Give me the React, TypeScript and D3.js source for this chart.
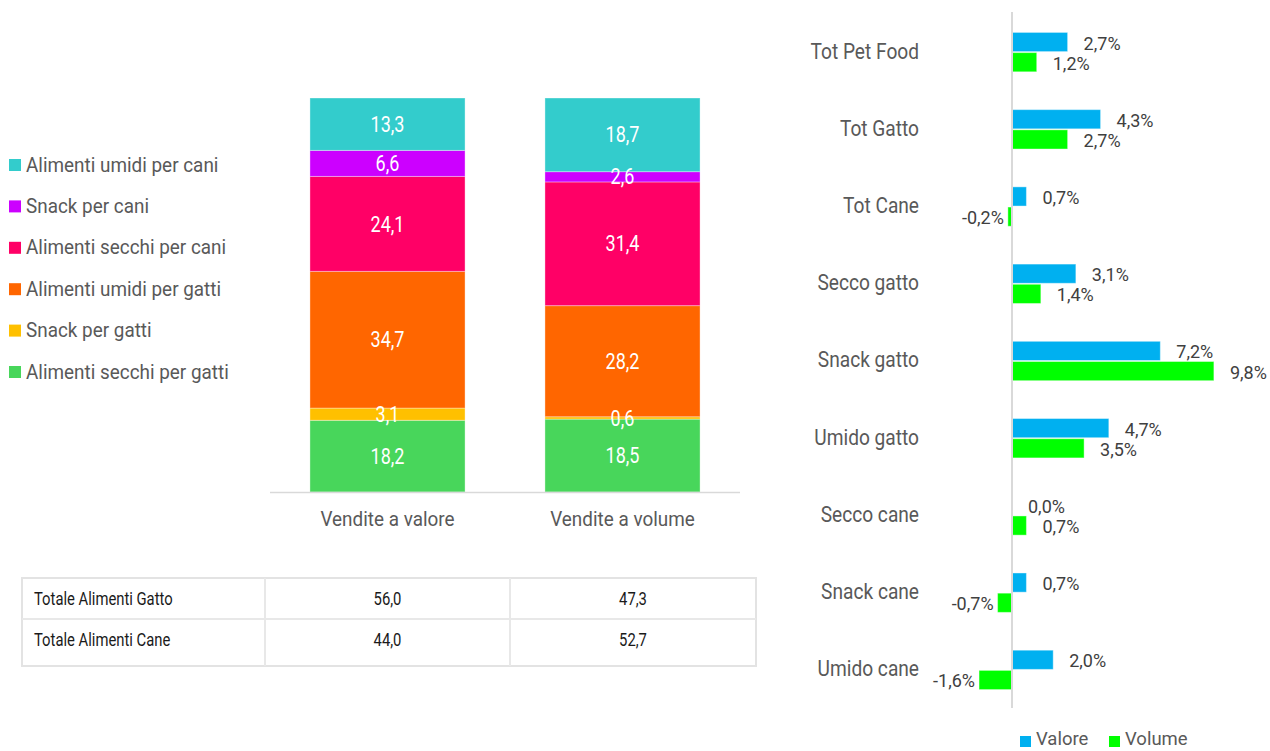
import React from "react";
import * as d3 from "d3";

// ---------- Data ----------
const stackSeries = [
  "Alimenti secchi per gatti",
  "Snack per gatti",
  "Alimenti umidi per gatti",
  "Alimenti secchi per cani",
  "Snack per cani",
  "Alimenti umidi per cani",
];
const stackColors = ["#48D65B", "#FFC000", "#FF6600", "#FF0066", "#CC00FF", "#33CCCC"];
const stackCategories = ["Vendite a valore", "Vendite a volume"];
const valoreShares = [18.2, 3.1, 34.7, 24.1, 6.6, 13.3];
const volumeShares = [18.5, 0.6, 28.2, 31.4, 2.6, 18.7];

const tableRows = ["Totale Alimenti Gatto", "Totale Alimenti Cane"];
const tableValore = [56.0, 44.0];
const tableVolume = [47.3, 52.7];

const growthCategories = [
  "Tot Pet Food",
  "Tot Gatto",
  "Tot Cane",
  "Secco gatto",
  "Snack gatto",
  "Umido gatto",
  "Secco cane",
  "Snack cane",
  "Umido cane",
];
const growthSeries = ["Valore", "Volume"];
const growthColors = ["#00B0F0", "#00FF00"];
const growthValore = [2.7, 4.3, 0.7, 3.1, 7.2, 4.7, 0.0, 0.7, 2.0];
const growthVolume = [1.2, 2.7, -0.2, 1.4, 9.8, 3.5, 0.7, -0.7, -1.6];

// ---------- helpers ----------
const FONT = "Roboto, 'Noto Sans', sans-serif";
const fmt1 = (v: number) => d3.format(".1f")(v).replace(".", ",").replace("−", "-");

function T(props: {
  x: number;
  y: number;
  sx?: number;
  size: number;
  anchor?: "start" | "middle" | "end";
  fill?: string;
  weight?: number;
  children: React.ReactNode;
}) {
  const { x, y, sx = 1, size, anchor = "start", fill = "#595959", weight = 400, children } = props;
  return (
    <text
      transform={`translate(${x},${y}) scale(${sx},1)`}
      fontSize={size}
      textAnchor={anchor}
      fill={fill}
      fontWeight={weight}
      fontFamily={FONT}
      dominantBaseline="central"
    >
      {children}
    </text>
  );
}

export default function App() {
  const W = 1270;
  const H = 751;

  // ----- stacked chart -----
  const table = stackCategories.map((c, i) => {
    const row: any = { cat: c };
    stackSeries.forEach((s, j) => {
      row[s] = (i === 0 ? valoreShares : volumeShares)[j];
    });
    return row;
  });
  const stacked = d3.stack<any>().keys(stackSeries)(table);
  const xS = d3.scaleBand<string>().domain(stackCategories).range([270, 740]).paddingInner(0.34).paddingOuter(0.17);
  const yS = d3.scaleLinear().domain([0, 100]).range([492, 98]);

  // ----- growth chart -----
  const yG = d3.scaleBand<string>().domain(growthCategories).range([13.5, 708.5]).paddingInner(0.49).paddingOuter(0.245);
  const ySub = d3.scaleBand<string>().domain(growthSeries).range([0, yG.bandwidth()]).paddingInner(0.05);
  const xG = d3.scaleLinear().domain([-2, 12]).range([1012 - 41.2, 1012 + 247.2]);
  const growthData = [growthValore, growthVolume];

  // ----- table -----
  const tableCols = [22, 265, 510, 756];
  const rowY = d3.scaleBand<string>().domain(tableRows).range([578, 660]);

  const legendY = d3.scalePoint<string>().domain([...stackSeries].reverse()).range([165, 372]);

  return (
    <svg width={W} height={H} style={{ display: "block", position: "absolute", left: 0, top: 0 }}>
      <rect width={W} height={H} fill="#fff" />

      {/* Left legend */}
      {[...stackSeries].reverse().map((s) => {
        const idx = stackSeries.indexOf(s);
        const cy = legendY(s)!;
        return (
          <g key={s}>
            <rect x={9} y={cy - 6} width={12} height={12} fill={stackColors[idx]} />
            <T x={26} y={cy} size={19.5} sx={0.97}>
              {s}
            </T>
          </g>
        );
      })}

      {/* Stacked bars */}
      {stacked.map((layer, j) => (
        <g key={layer.key}>
          {layer.map((d: any) => {
            const x = xS(d.data.cat)!;
            const y0 = yS(d[0]);
            const y1 = yS(d[1]);
            return (
              <rect
                key={d.data.cat}
                x={x}
                y={y1}
                width={xS.bandwidth()}
                height={y0 - y1}
                fill={stackColors[j]}
                stroke="#ffffff"
                strokeOpacity={0.35}
                strokeWidth={1}
              />
            );
          })}
        </g>
      ))}
      {stacked.map((layer) => (
        <g key={layer.key + "lbl"}>
          {layer.map((d: any) => {
            const x = xS(d.data.cat)! + xS.bandwidth() / 2;
            const y = (yS(d[0]) + yS(d[1])) / 2;
            return (
              <T key={d.data.cat} x={x} y={y} size={22} sx={0.82} anchor="middle" fill="#ffffff">
                {fmt1(d[1] - d[0])}
              </T>
            );
          })}
        </g>
      ))}
      <line x1={270} x2={740} y1={yS(0) + 0.5} y2={yS(0) + 0.5} stroke="#d9d9d9" strokeWidth={1.5} />
      {stackCategories.map((c) => (
        <T key={c} x={xS(c)! + xS.bandwidth() / 2} y={519} size={21} sx={0.9} anchor="middle">
          {c}
        </T>
      ))}

      {/* Table */}
      <g>
        <rect x={tableCols[0]} y={578} width={tableCols[3] - tableCols[0]} height={88} fill="#fff" stroke="#e3e3e3" strokeWidth={2} />
        <line x1={tableCols[0]} x2={tableCols[3]} y1={619} y2={619} stroke="#e8e8e8" strokeWidth={2} />
        <line x1={tableCols[1]} x2={tableCols[1]} y1={578} y2={666} stroke="#e8e8e8" strokeWidth={2} />
        <line x1={tableCols[2]} x2={tableCols[2]} y1={578} y2={666} stroke="#e8e8e8" strokeWidth={2} />
        {tableRows.map((r, i) => {
          const cy = rowY(r)! + 20;
          return (
            <g key={r}>
              <T x={34} y={cy} size={19} sx={0.78} fill="#1a1a1a">
                {r}
              </T>
              <T x={(tableCols[1] + tableCols[2]) / 2} y={cy} size={19} sx={0.78} anchor="middle" fill="#1a1a1a">
                {fmt1(tableValore[i])}
              </T>
              <T x={(tableCols[2] + tableCols[3]) / 2} y={cy} size={19} sx={0.78} anchor="middle" fill="#1a1a1a">
                {fmt1(tableVolume[i])}
              </T>
            </g>
          );
        })}
      </g>

      {/* Growth chart */}
      {growthCategories.map((c, i) => {
        const gy = yG(c)!;
        return (
          <g key={c}>
            <T x={919} y={gy + yG.bandwidth() / 2 - 1} size={21.5} sx={0.89} anchor="end">
              {c}
            </T>
            {growthSeries.map((s, k) => {
              const v = growthData[k][i];
              const by = gy + ySub(s)!;
              const bx = Math.min(xG(0), xG(v));
              const bw = Math.abs(xG(v) - xG(0));
              const lx = v >= 0 ? xG(v) + 16 : xG(v) - 4;
              return (
                <g key={s}>
                  {bw > 0 && (
                    <rect x={bx} y={by} width={bw} height={ySub.bandwidth()} fill={growthColors[k]} stroke="#ffffff" strokeOpacity={0.4} strokeWidth={1} />
                  )}
                  <T x={lx} y={by + ySub.bandwidth() / 2 + 1} size={18} sx={1} anchor={v >= 0 ? "start" : "end"} fill="#404040">
                    {fmt1(v) + "%"}
                  </T>
                </g>
              );
            })}
          </g>
        );
      })}
      <line x1={xG(0)} x2={xG(0)} y1={12} y2={708} stroke="#d9d9d9" strokeWidth={2} />

      {/* Right legend */}
      {growthSeries.map((s, k) => {
        const lx = k === 0 ? 1020 : 1109;
        return (
          <g key={s}>
            <rect x={lx} y={736} width={11} height={11} fill={growthColors[k]} />
            <T x={lx + 16} y={739} size={18.5} sx={1}>
              {s}
            </T>
          </g>
        );
      })}
    </svg>
  );
}
